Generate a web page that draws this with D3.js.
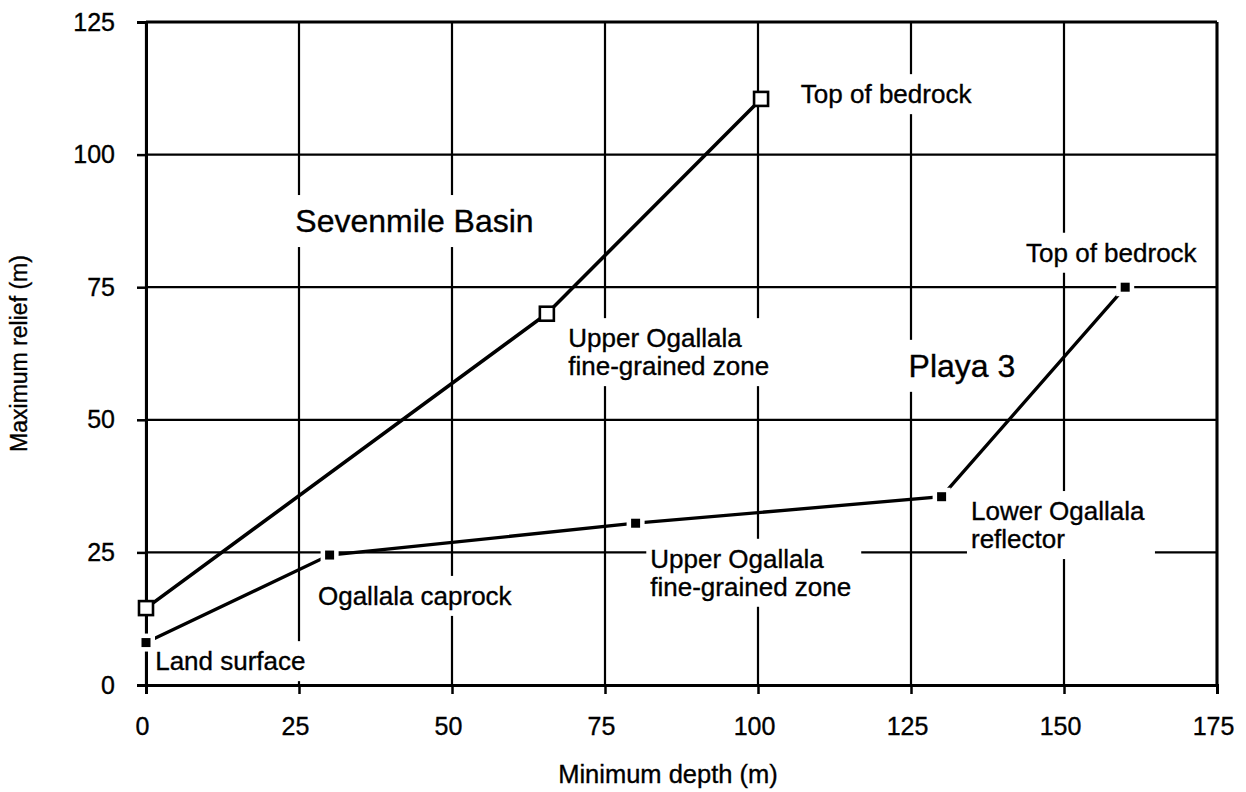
<!DOCTYPE html>
<html>
<head>
<meta charset="utf-8">
<script src="https://cdn.jsdelivr.net/npm/d3@7"></script>
<style>
  html, body { margin: 0; padding: 0; background: #fff; }
  svg { display: block; }
  text { font-family: "Liberation Sans", Arial, Helvetica, sans-serif; fill: #000; stroke: #000; stroke-width: 0.35px; }
</style>
</head>
<body>
<svg id="chart" width="1246" height="792"></svg>
<script>
// ---- data ----
const xTicks = [0, 25, 50, 75, 100, 125, 150, 175];
const yTicks = [0, 25, 50, 75, 100, 125];

const sevenmileDepth = [0, 65.5, 100.5];
const sevenmileRelief = [14.5, 70, 110.5];

const playaDepth = [0, 30, 80, 130, 160];
const playaRelief = [8, 24.5, 30.5, 35.5, 75];

const labelTexts = [
  ["Top of bedrock"],
  ["Sevenmile Basin"],
  ["Upper Ogallala", "fine-grained zone"],
  ["Playa 3"],
  ["Top of bedrock"],
  ["Lower Ogallala", "reflector"],
  ["Upper Ogallala", "fine-grained zone"],
  ["Ogallala caprock"],
  ["Land surface"]
];
const labelDepth = [107, 24.4, 69, 124.6, 143.8, 134.8, 82.4, 28.1, 1.5];
const labelRelief = [109.7, 85.4, 63.7, 58.1, 79.8, 31.1, 22.1, 15.1, 2.8];
const labelBig = [false, true, false, true, false, false, false, false, false];

const xTitle = "Minimum depth (m)";
const yTitle = "Maximum relief (m)";

// ---- drawing ----
const svg = d3.select("#chart");
const x = d3.scaleLinear().domain([0, 175]).range([146, 1217]);
const y = d3.scaleLinear().domain([0, 125]).range([685, 22]);

// gridlines
const grid = svg.append("g");
grid.selectAll("line.v").data(xTicks).join("line")
  .attr("x1", d => x(d)).attr("x2", d => x(d))
  .attr("y1", y(0)).attr("y2", y(125))
  .attr("stroke", "#000").attr("stroke-width", 2.2);
grid.selectAll("line.h").data(yTicks).join("line")
  .attr("y1", d => y(d)).attr("y2", d => y(d))
  .attr("x1", x(0)).attr("x2", x(175))
  .attr("stroke", "#000").attr("stroke-width", 2.2);

// axes
const xAxis = d3.axisBottom(x).tickValues(xTicks).tickSize(9).tickPadding(23).tickFormat(d3.format("d"));
const yAxis = d3.axisLeft(y).tickValues(yTicks).tickSize(9).tickPadding(22).tickFormat(d3.format("d"));
const gx = svg.append("g").attr("transform", `translate(0,${y(0)})`).call(xAxis);
const gy = svg.append("g").attr("transform", `translate(${x(0)},0)`).call(yAxis);
[gx, gy].forEach(g => {
  g.select(".domain").attr("stroke", "#000").attr("stroke-width", 3);
  g.selectAll(".tick line").attr("stroke", "#000").attr("stroke-width", 2.5);
  g.selectAll(".tick text").attr("font-size", 25).attr("font-family", "Liberation Sans, Arial, sans-serif").attr("fill", "#000");
});
gx.selectAll(".tick text").attr("dx", -4);
// top & right frame
svg.append("line").attr("x1", x(0)).attr("x2", x(175)).attr("y1", y(125)).attr("y2", y(125)).attr("stroke", "#000").attr("stroke-width", 3);
svg.append("line").attr("x1", x(175)).attr("x2", x(175)).attr("y1", y(0)).attr("y2", y(125)).attr("stroke", "#000").attr("stroke-width", 3);

// axis titles
svg.append("text").attr("x", 668).attr("y", 783).attr("text-anchor", "middle")
  .attr("font-size", 25.5).text(xTitle);
svg.append("text").attr("transform", `translate(27,${(y(0) + y(125)) / 2}) rotate(-90)`)
  .attr("text-anchor", "middle").attr("font-size", 23).text(yTitle);

// labels with white backgrounds
const labG = svg.append("g");
labelTexts.forEach((lines, i) => {
  const g = labG.append("g");
  const fs = labelBig[i] ? 32 : 26;
  const t = g.append("text").attr("x", x(labelDepth[i])).attr("y", y(labelRelief[i]))
    .attr("font-size", fs);
  lines.forEach((ln, j) => {
    t.append("tspan").attr("x", x(labelDepth[i])).attr("dy", j === 0 ? 0 : 28).text(ln);
  });
  const bb = t.node().getBBox();
  const pad = labelBig[i] ? 10 : 7;
  g.insert("rect", "text").attr("x", bb.x - 4).attr("y", bb.y - pad + 2)
    .attr("width", bb.width + 14).attr("height", bb.height + 2 * pad - 4)
    .attr("fill", "#fff");
});

// series lines
const line = d3.line().x(d => x(d[0])).y(d => y(d[1]));
const sevenPts = sevenmileDepth.map((d, i) => [d, sevenmileRelief[i]]);
const playaPts = playaDepth.map((d, i) => [d, playaRelief[i]]);

svg.append("path").datum(sevenPts).attr("d", line)
  .attr("fill", "none").attr("stroke", "#000").attr("stroke-width", 3.6);
svg.append("path").datum(playaPts).attr("d", line)
  .attr("fill", "none").attr("stroke", "#000").attr("stroke-width", 3.3);

// markers: Sevenmile (open squares)
svg.selectAll("rect.sev").data(sevenPts).join("rect")
  .attr("x", d => x(d[0]) - 7).attr("y", d => y(d[1]) - 7)
  .attr("width", 14).attr("height", 14)
  .attr("fill", "#fff").attr("stroke", "#000").attr("stroke-width", 2.6);

// markers: Playa 3 (small filled squares with white halo)
svg.selectAll("rect.playaHalo").data(playaPts).join("rect")
  .attr("x", d => x(d[0]) - 9).attr("y", d => y(d[1]) - 9)
  .attr("width", 18).attr("height", 18).attr("fill", "#fff");
svg.selectAll("rect.playa").data(playaPts).join("rect")
  .attr("x", d => x(d[0]) - 4.5).attr("y", d => y(d[1]) - 4.5)
  .attr("width", 9).attr("height", 9).attr("fill", "#000");
</script>
</body>
</html>
